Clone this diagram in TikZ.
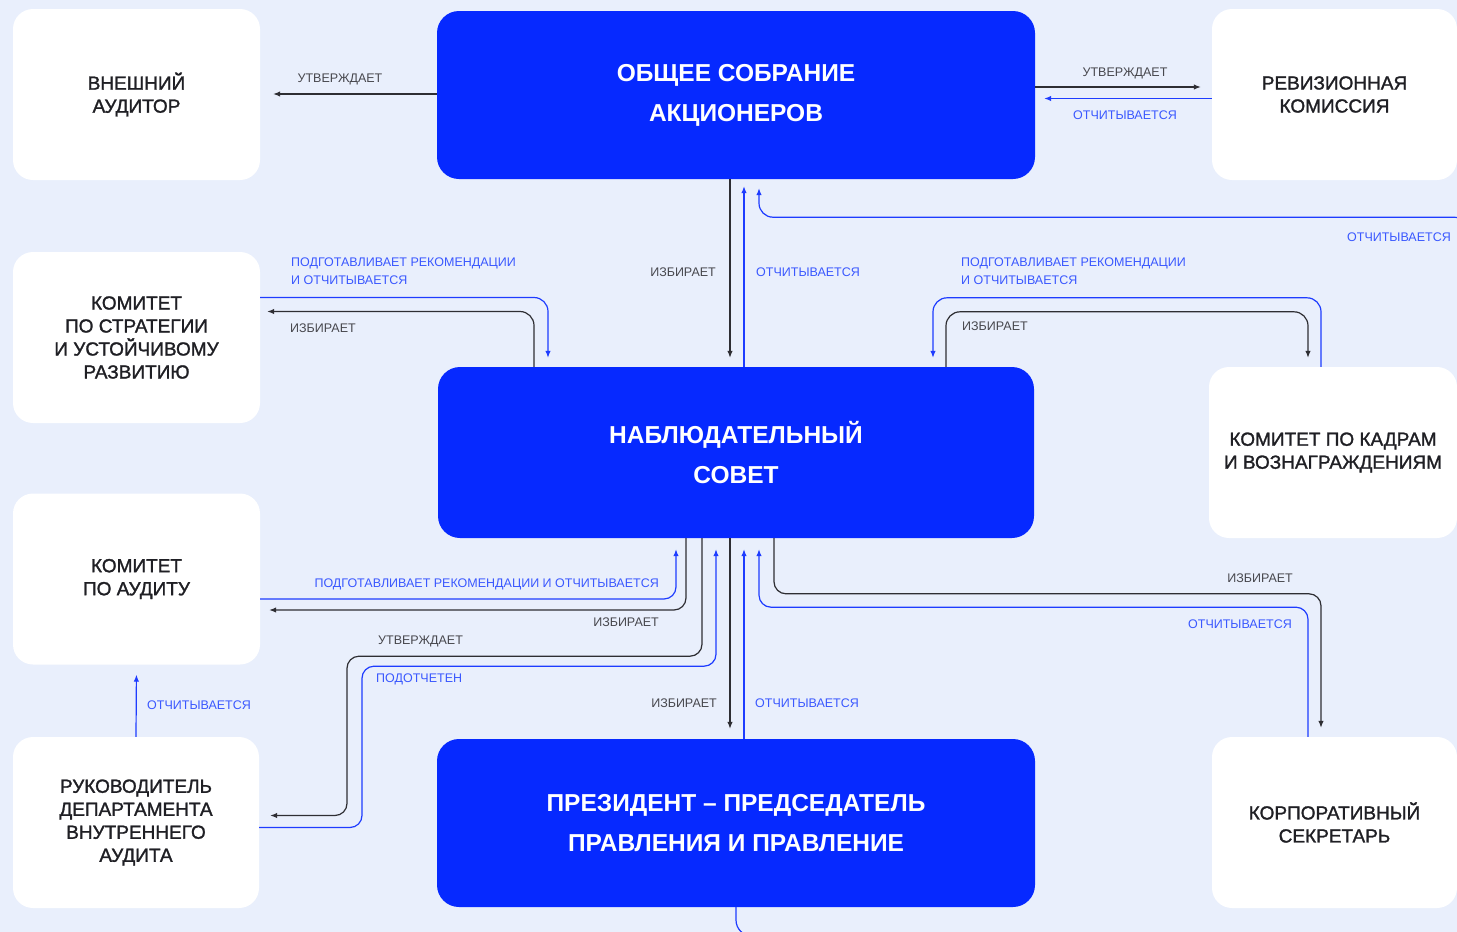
\documentclass[tikz,border=0pt]{standalone}
\usepackage{fontspec}
\setmainfont{Liberation Sans}
\newfontfamily\medfont{Liberation Sans}[FakeBold=1.4]
\usetikzlibrary{arrows.meta,calc}
\definecolor{Canvas}{HTML}{E9EFFC}
\definecolor{Royal}{HTML}{0629FF}
\definecolor{Wire}{HTML}{2E2E33}
\definecolor{WireBlue}{HTML}{1E3CFF}
\definecolor{Ink}{HTML}{1F1F24}
\definecolor{Graphite}{HTML}{47474D}
\definecolor{TagBlue}{HTML}{3A58FF}
\tikzset{
  card/.style={fill=white,rounded corners=20pt,minimum width=247pt,minimum height=171pt,align=center,text=Ink,inner sep=0pt,font=\medfont\fontsize{19}{23}\selectfont},
  organ/.style={fill=Royal,rounded corners=22pt,minimum width=598pt,minimum height=168pt,align=center,text=white,inner sep=0pt,font=\bfseries\fontsize{24.5}{40}\selectfont},
  elect/.style={-{Latex[length=7pt,width=5.5pt]},draw=Wire,line width=1.2pt,rounded corners=14pt},
  report/.style={-{Latex[length=7pt,width=5.5pt]},draw=WireBlue,line width=1.2pt,rounded corners=14pt},
  tag/.style={text=Graphite,inner sep=0pt,align=left,font=\fontsize{12.5}{18}\selectfont},
  bluetag/.style={tag,text=TagBlue}
}
\begin{document}
\begin{tikzpicture}[x=1pt,y=-1pt]
  \path[use as bounding box] (0,0) rectangle (1457,932);
  \fill[Canvas] (0,0) rectangle (1457,932);
  \clip (0,0) rectangle (1457,932);

  % bodies
  \node[organ] (gsm) at (736,95) {ОБЩЕЕ СОБРАНИЕ\\АКЦИОНЕРОВ};
  \node[organ,minimum width=596pt,minimum height=171pt] (board) at (736,452.5) {НАБЛЮДАТЕЛЬНЫЙ\\СОВЕТ};
  \node[organ] (president) at (736,823) {ПРЕЗИДЕНТ – ПРЕДСЕДАТЕЛЬ\\ПРАВЛЕНИЯ И ПРАВЛЕНИЕ};

  \node[card] (audext) at (136.5,94.5) {ВНЕШНИЙ\\АУДИТОР};
  \node[card,minimum width=245pt] (revcom) at (1334.5,94.5) {РЕВИЗИОННАЯ\\КОМИССИЯ};
  \node[card] (stratcom) at (136.5,337.5) {КОМИТЕТ\\ПО СТРАТЕГИИ\\И УСТОЙЧИВОМУ\\РАЗВИТИЮ};
  \node[card,minimum width=248pt] (hrcom) at (1333,452.5) {КОМИТЕТ ПО КАДРАМ\\И ВОЗНАГРАЖДЕНИЯМ};
  \node[card] (auditcom) at (136.5,579) {КОМИТЕТ\\ПО АУДИТУ};
  \node[card,minimum width=246pt] (iahead) at (136,822.5) {РУКОВОДИТЕЛЬ\\ДЕПАРТАМЕНТА\\ВНУТРЕННЕГО\\АУДИТА};
  \node[card,minimum width=245pt] (secretary) at (1334.5,822.5) {КОРПОРАТИВНЫЙ\\СЕКРЕТАРЬ};

  \coordinate (offright) at (1468,240);
  \coordinate (offbottom) at (790,936);

  % general meeting
  \draw[elect,shorten >=13pt] ([yshift=1pt]gsm.west) -- ([yshift=1pt]gsm.west -| audext.east);
  \draw[elect,shorten >=11pt] ([yshift=8pt]gsm.east) -- ([yshift=8pt]gsm.east -| revcom.west);
  \draw[report,shorten >=9pt] ([yshift=-4pt]revcom.west) -- ([yshift=-4pt]revcom.west -| gsm.east);
  \draw[elect,shorten >=9pt] ([xshift=-6pt]gsm.south) -- ([xshift=-6pt]board.north);
  \draw[report,shorten >=7pt] ([xshift=8pt]board.north) -- ([xshift=8pt]gsm.south);
  \draw[report,shorten >=9pt] (offright) |- ([xshift=23pt,yshift=-38pt]gsm.south) -- ([xshift=23pt]gsm.south);

  \node[tag,anchor=center] (t1) at (340,79) {УТВЕРЖДАЕТ};
  \node[tag,anchor=center] (t2) at (1125,73) {УТВЕРЖДАЕТ};
  \node[bluetag,anchor=center] (t3) at (1125,115) {ОТЧИТЫВАЕТСЯ};
  \node[tag,anchor=east] (t4) at (716,272) {ИЗБИРАЕТ};
  \node[bluetag,anchor=west] (t5) at (756,272) {ОТЧИТЫВАЕТСЯ};
  \node[bluetag,anchor=east] (t6) at (1451,237) {ОТЧИТЫВАЕТСЯ};

  % committees above the board
  \draw[report,shorten >=9pt] ([yshift=40pt]stratcom.east) -| ([xshift=-188pt]board.north);
  \draw[elect,shorten >=7pt] ([xshift=-202pt]board.north) |- ([yshift=26pt]stratcom.east);
  \draw[report,shorten >=9pt] ([xshift=-12pt]hrcom.north) |- ([xshift=197pt,yshift=69pt]board.north) -- ([xshift=197pt]board.north);
  \draw[elect,shorten >=9pt] ([xshift=210pt]board.north) |- ([xshift=-25pt,yshift=55pt]hrcom.north) -- ([xshift=-25pt]hrcom.north);

  \node[bluetag,anchor=west] (t7) at (291,271) {ПОДГОТАВЛИВАЕТ РЕКОМЕНДАЦИИ\\И ОТЧИТЫВАЕТСЯ};
  \node[tag,anchor=west] (t8) at (290,328) {ИЗБИРАЕТ};
  \node[bluetag,anchor=west] (t9) at (961,271) {ПОДГОТАВЛИВАЕТ РЕКОМЕНДАЦИИ\\И ОТЧИТЫВАЕТСЯ};
  \node[tag,anchor=west] (t10) at (962,326) {ИЗБИРАЕТ};

  % below the board
  \draw[report,rounded corners=12pt,shorten >=11pt] ([yshift=-20pt]auditcom.east) -| ([xshift=-60pt]board.south);
  \draw[elect,rounded corners=12pt,shorten >=9pt] ([xshift=-50pt]board.south) |- ([yshift=-31pt]auditcom.east);
  \draw[elect,rounded corners=12pt,shorten >=11pt] ([xshift=-34pt]board.south) |- ($(board.south)+(-389,118)$) |- ([yshift=7pt]iahead.east);
  \draw[report,rounded corners=12pt,shorten >=11pt] ([yshift=-5pt]iahead.east) -| ($(board.south)+(-374,128)$) -| ([xshift=-20pt]board.south);
  \draw[elect,shorten >=10pt] ([xshift=-6pt]board.south) -- ([xshift=-6pt]president.north);
  \draw[report,shorten >=11pt] ([xshift=8pt]president.north) -- ([xshift=8pt]board.south);
  \draw[elect,rounded corners=12pt,shorten >=9pt] ([xshift=38pt]board.south) |- ([xshift=-13.5pt,yshift=143pt]secretary.north) -- ([xshift=-13.5pt]secretary.north);
  \draw[report,rounded corners=12pt,shorten >=11pt] ([xshift=-26.5pt]secretary.north) |- ([xshift=23pt,yshift=-69pt]board.south) -- ([xshift=23pt]board.south);
  \draw[report,shorten >=10pt] (iahead.north) -- (auditcom.south);
  \draw[report,-,rounded corners=16pt] (president.south) |- (offbottom);

  \node[bluetag,anchor=east] (t11) at (659,584) {ПОДГОТАВЛИВАЕТ РЕКОМЕНДАЦИИ И ОТЧИТЫВАЕТСЯ};
  \node[tag,anchor=east] (t12) at (659,622) {ИЗБИРАЕТ};
  \node[tag,anchor=west] (t13) at (378,641) {УТВЕРЖДАЕТ};
  \node[bluetag,anchor=west] (t14) at (376,679) {ПОДОТЧЕТЕН};
  \node[tag,anchor=east] (t15) at (717,703) {ИЗБИРАЕТ};
  \node[bluetag,anchor=west] (t16) at (755,703) {ОТЧИТЫВАЕТСЯ};
  \node[tag,anchor=east] (t17) at (1293,578) {ИЗБИРАЕТ};
  \node[bluetag,anchor=east] (t18) at (1292,624) {ОТЧИТЫВАЕТСЯ};
  \node[bluetag,anchor=west] (t19) at (147,705) {ОТЧИТЫВАЕТСЯ};
\end{tikzpicture}
\end{document}
